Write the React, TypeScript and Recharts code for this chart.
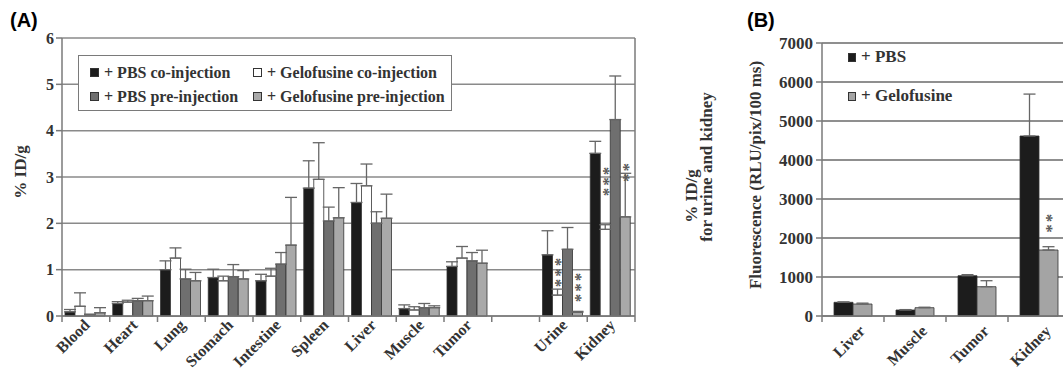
import React from 'react';
import { BarChart, Bar, XAxis, YAxis, CartesianGrid, ErrorBar, LabelList, Legend } from 'recharts';

const SERIF = "'Liberation Serif', 'Times New Roman', serif";

// ---- Panel A: biodistribution, %ID/g (left axis) ----
const tissues = ['Blood', 'Heart', 'Lung', 'Stomach', 'Intestine', 'Spleen', 'Liver', 'Muscle', 'Tumor'];
const pbsCo = [0.09, 0.27, 1.0, 0.83, 0.76, 2.76, 2.45, 0.16, 1.07];
const pbsCoSd = [0.05, 0.04, 0.19, 0.18, 0.14, 0.59, 0.41, 0.08, 0.1];
const geloCo = [0.21, 0.3, 1.25, 0.76, 0.86, 2.95, 2.81, 0.13, 1.25];
const geloCoSd = [0.29, 0.04, 0.22, 0.1, 0.17, 0.79, 0.47, 0.07, 0.25];
const pbsPre = [0.03, 0.33, 0.8, 0.85, 1.12, 2.05, 2.0, 0.18, 1.19];
const pbsPreSd = [0.01, 0.05, 0.21, 0.26, 0.25, 0.3, 0.25, 0.09, 0.18];
const geloPre = [0.07, 0.33, 0.76, 0.8, 1.53, 2.12, 2.11, 0.18, 1.14];
const geloPreSd = [0.11, 0.1, 0.18, 0.18, 1.03, 0.65, 0.52, 0.04, 0.28];

// urine and kidney, %ID/g on the right axis (0-60)
const excreta = ['Urine', 'Kidney'];
const pbsCoEx = [13.2, 35.1];
const pbsCoExSd = [5.2, 2.6];
const geloCoEx = [4.5, 18.7];
const geloCoExSd = [1.3, 1.0];
const pbsPreEx = [14.4, 42.4];
const pbsPreExSd = [4.7, 9.4];
const geloPreEx = [0.8, 21.4];
const geloPreExSd = [0.2, 9.4];
const geloCoStars = ['***', '***'];
const geloPreStars = ['***', '**'];

const leftTicks = [0, 1, 2, 3, 4, 5, 6];
const rightTicks = [0, 10, 20, 30, 40, 50, 60];
const RIGHT_PER_LEFT = 10; // right axis is ten times the left one

// ---- Panel B: fluorescence ----
const organsB = ['Liver', 'Muscle', 'Tumor', 'Kidney'];
const pbsB = [351, 154, 1033, 4615];
const pbsBSd = [10, 10, 27, 1075];
const geloB = [307, 213, 751, 1692];
const geloBSd = [23, 12, 154, 85];
const geloBStars = ['', '', '', '**'];
const ticksB = [0, 1000, 2000, 3000, 4000, 5000, 6000, 7000];

const seriesA = [
  { key: 'pbsCo', name: '+ PBS co-injection', fill: '#1c1c1c', v: pbsCo, sd: pbsCoSd, ex: pbsCoEx, exSd: pbsCoExSd },
  { key: 'geloCo', name: '+ Gelofusine co-injection', fill: '#ffffff', v: geloCo, sd: geloCoSd, ex: geloCoEx, exSd: geloCoExSd },
  { key: 'pbsPre', name: '+ PBS pre-injection', fill: '#6f6f6f', v: pbsPre, sd: pbsPreSd, ex: pbsPreEx, exSd: pbsPreExSd },
  { key: 'geloPre', name: '+ Gelofusine pre-injection', fill: '#a9a9a9', v: geloPre, sd: geloPreSd, ex: geloPreEx, exSd: geloPreExSd },
];
const seriesB = [
  { key: 'pbs', name: '+ PBS', fill: '#1c1c1c' },
  { key: 'gelo', name: '+ Gelofusine', fill: '#a4a4a4' },
];

const gapRow: any = { cat: ' ', geloCoStars: '', geloPreStars: '' };
seriesA.forEach((s) => {
  gapRow[s.key] = 0;
  gapRow[s.key + 'Err'] = [0, 0];
});

const dataA: any[] = [
  ...tissues.map((cat, i) => {
    const row: any = { cat, geloCoStars: '', geloPreStars: '' };
    seriesA.forEach((s) => {
      row[s.key] = s.v[i];
      row[s.key + 'Err'] = [0, s.sd[i]];
    });
    return row;
  }),
  gapRow,
  ...excreta.map((cat, i) => {
    const row: any = { cat, geloCoStars: geloCoStars[i], geloPreStars: geloPreStars[i] };
    seriesA.forEach((s) => {
      row[s.key] = s.ex[i] / RIGHT_PER_LEFT;
      row[s.key + 'Err'] = [0, s.exSd[i] / RIGHT_PER_LEFT];
    });
    return row;
  }),
];

const dataB = organsB.map((cat, i) => ({
  cat,
  pbs: pbsB[i],
  pbsErr: [0, pbsBSd[i]],
  gelo: geloB[i],
  geloErr: [0, geloBSd[i]],
  geloStars: geloBStars[i],
}));

// x tick: rotated label + tick marks on the category boundaries
const makeCatTick = (dx: number, dy: number) => (props: any) => {
  const { x, y, payload, index, visibleTicksCount, width } = props;
  const half =
    typeof payload?.offset === 'number' && payload.offset > 0 ? payload.offset : width / (visibleTicksCount || 1) / 2;
  const lx = x + dx;
  const ly = y + dy;
  return (
    <g>
      <line x1={x - half} x2={x - half} y1={y} y2={y + 6} stroke="#7a7a7a" strokeWidth={1.5} />
      {index === visibleTicksCount - 1 && (
        <line x1={x + half} x2={x + half} y1={y} y2={y + 6} stroke="#7a7a7a" strokeWidth={1.5} />
      )}
      <text
        x={lx}
        y={ly}
        textAnchor="end"
        transform={`rotate(-45 ${lx} ${ly})`}
        fontFamily={SERIF}
        fontWeight={700}
        fontSize={16}
        fill="#333"
      >
        {payload?.value}
      </text>
    </g>
  );
};

// asterisks stacked vertically above the error bar
const makeStars = (data: any[], valKey: string, gap: number) => (props: any) => {
  const { index, value } = props;
  if (!value) return null;
  const row = data[index];
  if (!row) return null;
  const vb = props.viewBox ?? {};
  const x = props.x ?? vb.x;
  const y = props.y ?? vb.y;
  const w = props.width ?? vb.width;
  const h = Math.abs(props.height ?? vb.height);
  const v = row[valKey];
  const err = row[valKey + 'Err'];
  const sd = Array.isArray(err) ? err[1] : 0;
  const top = v > 0 ? y - (sd * h) / v : y;
  const cx = x + w / 2;
  const sy = top - gap;
  return (
    <text
      x={cx}
      y={sy}
      dy="0.5em"
      transform={`rotate(-90 ${cx} ${sy})`}
      fontFamily={SERIF}
      fontWeight={700}
      fontSize={17}
      letterSpacing={2}
      fill="#5a5a5a"
    >
      {value}
    </text>
  );
};

const rotatedTitle = (lines: { text: string; x: number; y: number }[]) => () => (
  <g>
    {lines.map((l) => (
      <text
        key={l.text}
        x={l.x}
        y={l.y}
        textAnchor="middle"
        transform={`rotate(-90 ${l.x} ${l.y})`}
        fontFamily={SERIF}
        fontWeight={700}
        fontSize={17}
        fill="#333"
      >
        {l.text}
      </text>
    ))}
  </g>
);

const swatch = (color: string, w: number) => (
  <span style={{ width: w, height: 7, background: color, border: '1px solid #333', marginRight: 5, flex: 'none' }} />
);

const LegendA = () => (
  <div
    style={{
      width: 374,
      height: 56,
      boxSizing: 'border-box',
      border: '1.5px solid #7a7a7a',
      background: '#fff',
      display: 'grid',
      gridTemplateColumns: '163px auto',
      padding: '6px 0 0 11px',
      fontFamily: SERIF,
      fontWeight: 700,
      fontSize: 16,
      color: '#333',
      whiteSpace: 'nowrap',
    }}
  >
    {seriesA.map((s) => (
      <div key={s.key} style={{ display: 'flex', alignItems: 'center', height: 21 }}>
        {swatch(s.fill, 7)}
        {s.name}
      </div>
    ))}
  </div>
);

const LegendB = () => (
  <div style={{ fontFamily: SERIF, fontWeight: 700, fontSize: 17, color: '#333', whiteSpace: 'nowrap' }}>
    {seriesB.map((s) => (
      <div key={s.key} style={{ display: 'flex', alignItems: 'center', height: 24, marginBottom: 15 }}>
        {swatch(s.fill, 6)}
        {s.name}
      </div>
    ))}
  </div>
);

const axisTick = { fontFamily: SERIF, fontWeight: 700, fontSize: 16, fill: '#333' };
const panelTag = { position: 'absolute' as const, top: 8, fontFamily: "'Liberation Sans', Arial, sans-serif", fontWeight: 700, fontSize: 20, lineHeight: '24px' };

export default function App() {
  return (
    <div style={{ position: 'absolute', left: 0, top: 0, width: 1063, height: 369, overflow: 'hidden', background: '#fff' }}>
      <div style={{ ...panelTag, left: 10 }}>(A)</div>
      <div style={{ ...panelTag, left: 747 }}>(B)</div>

      <div style={{ position: 'absolute', left: 0, top: 0 }}>
        <BarChart
          width={720}
          height={369}
          data={dataA}
          margin={{ top: 38, right: 0, bottom: 0, left: 0 }}
          barCategoryGap={3}
          barGap={0}
        >
          <CartesianGrid vertical={false} stroke="#8a8a8a" strokeWidth={1.5} />
          <XAxis
            dataKey="cat"
            interval={0}
            height={53}
            tickSize={0}
            tickMargin={0}
            tickLine={false}
            axisLine={{ stroke: '#7a7a7a', strokeWidth: 1.5 }}
            tick={makeCatTick(5, 10)}
          />
          <YAxis
            width={62}
            domain={[0, 6]}
            ticks={leftTicks}
            interval={0}
            tickSize={6}
            tickMargin={2}
            axisLine={{ stroke: '#7a7a7a', strokeWidth: 1.5 }}
            tickLine={{ stroke: '#7a7a7a', strokeWidth: 1.5 }}
            tick={axisTick}
            label={{ content: rotatedTitle([{ text: '% ID/g', x: 26, y: 172 }]) }}
          />
          <YAxis
            yAxisId="right"
            orientation="right"
            width={85}
            domain={[0, 60]}
            ticks={rightTicks}
            interval={0}
            tickSize={6}
            tickMargin={2}
            axisLine={{ stroke: '#7a7a7a', strokeWidth: 1.5 }}
            tickLine={{ stroke: '#7a7a7a', strokeWidth: 1.5 }}
            tick={axisTick}
            label={{
              content: rotatedTitle([
                { text: '% ID/g', x: 697, y: 196 },
                { text: 'for urine and kidney', x: 712, y: 167 },
              ]),
            }}
          />
          <Legend
            layout="horizontal"
            verticalAlign="middle"
            align="center"
            wrapperStyle={{ left: 78, top: 55, width: 374 }}
            content={<LegendA />}
          />
          {seriesA.map((s) => (
            <Bar key={s.key} dataKey={s.key} name={s.name} fill={s.fill} stroke="#333" strokeWidth={0.8} isAnimationActive={false}>
              <ErrorBar dataKey={s.key + 'Err'} width={6} stroke="#666" strokeWidth={1.3} direction="y" />
              {s.key === 'geloCo' && <LabelList dataKey="geloCoStars" content={makeStars(dataA, 'geloCo', 8)} />}
              {s.key === 'geloPre' && <LabelList dataKey="geloPreStars" content={makeStars(dataA, 'geloPre', 10)} />}
            </Bar>
          ))}
        </BarChart>
      </div>

      <div style={{ position: 'absolute', left: 740, top: 0 }}>
        <BarChart
          width={330}
          height={369}
          data={dataB}
          margin={{ top: 43, right: 0, bottom: 0, left: 0 }}
          barCategoryGap={12}
          barGap={0}
        >
          <CartesianGrid vertical={false} stroke="#6a6a6a" strokeWidth={1.5} />
          <XAxis
            dataKey="cat"
            interval={0}
            height={53}
            tickSize={0}
            tickMargin={0}
            tickLine={false}
            axisLine={{ stroke: '#7a7a7a', strokeWidth: 1.5 }}
            tick={makeCatTick(13, 16)}
          />
          <YAxis
            width={82}
            domain={[0, 7000]}
            ticks={ticksB}
            interval={0}
            tickSize={6}
            tickMargin={3}
            axisLine={{ stroke: '#7a7a7a', strokeWidth: 1.5 }}
            tickLine={{ stroke: '#7a7a7a', strokeWidth: 1.5 }}
            tick={{ ...axisTick, fontSize: 17 }}
            label={{ content: rotatedTitle([{ text: 'Fluorescence (RLU/pix/100 ms)', x: 21, y: 175 }]) }}
          />
          <Legend
            layout="horizontal"
            verticalAlign="middle"
            align="center"
            wrapperStyle={{ left: 108, top: 45, width: 160 }}
            content={<LegendB />}
          />
          <Bar dataKey="pbs" name="+ PBS" fill="#1c1c1c" stroke="#333" strokeWidth={0.8} isAnimationActive={false}>
            <ErrorBar dataKey="pbsErr" width={6} stroke="#666" strokeWidth={1.3} direction="y" />
          </Bar>
          <Bar dataKey="gelo" name="+ Gelofusine" fill="#a4a4a4" stroke="#333" strokeWidth={0.8} isAnimationActive={false}>
            <ErrorBar dataKey="geloErr" width={6} stroke="#666" strokeWidth={1.3} direction="y" />
            <LabelList dataKey="geloStars" content={makeStars(dataB, 'gelo', 14)} />
          </Bar>
        </BarChart>
      </div>
    </div>
  );
}
